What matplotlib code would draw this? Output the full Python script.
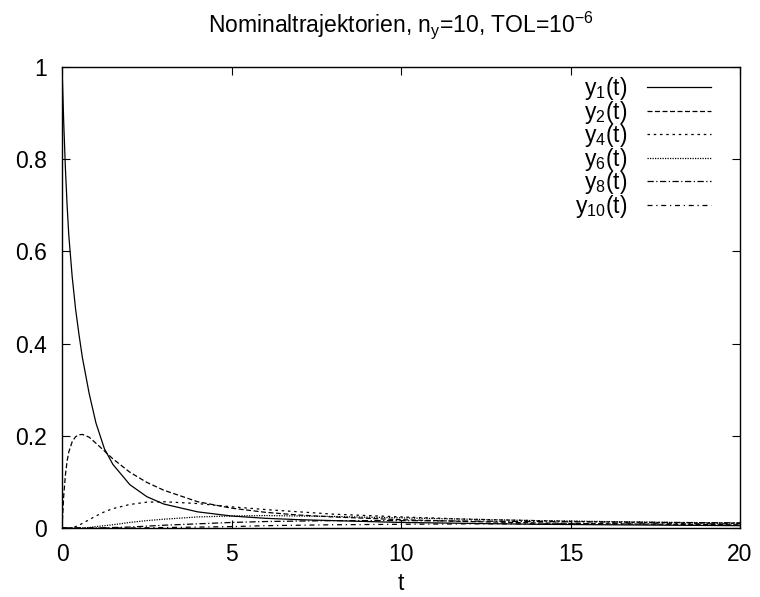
import matplotlib
matplotlib.use("Agg")
import matplotlib.pyplot as plt

plt.rcParams['font.family'] = ['Liberation Sans', 'DejaVu Sans']
plt.rcParams['mathtext.default'] = 'regular'

# values
t = [0, 0.05, 0.1, 0.15, 0.2, 0.3, 0.4, 0.5, 0.6, 0.8, 1.0, 1.25, 1.5, 2.0,
     2.5, 3.0, 4.0, 5.0, 6.0, 7.0, 8.0, 10.0, 12.0, 14.0, 16.0, 18.0, 20.0]
y1 = [1.0, 0.88, 0.78, 0.70, 0.635, 0.545, 0.475, 0.42, 0.37, 0.292, 0.228,
      0.172, 0.138, 0.094, 0.068, 0.052, 0.035, 0.026, 0.021, 0.018, 0.016,
      0.012, 0.010, 0.008, 0.007, 0.006, 0.005]
y2 = [0.0, 0.07, 0.115, 0.145, 0.165, 0.187, 0.198, 0.202, 0.203, 0.197,
      0.184, 0.167, 0.150, 0.121, 0.099, 0.082, 0.057, 0.043, 0.034, 0.028,
      0.024, 0.018, 0.014, 0.011, 0.009, 0.008, 0.007]
y4 = [0.0, 0.0, 0.0, 0.0, 0.0, 0.001, 0.003, 0.006, 0.010, 0.018, 0.026,
      0.035, 0.042, 0.051, 0.056, 0.057, 0.053, 0.046, 0.040, 0.035, 0.030,
      0.024, 0.019, 0.016, 0.013, 0.011, 0.010]
y6 = [0.0, 0.0, 0.0, 0.0, 0.0, 0.0, 0.0, 0.0, 0.0, 0.001, 0.003, 0.005,
      0.007, 0.012, 0.016, 0.019, 0.024, 0.026, 0.027, 0.026, 0.025, 0.022,
      0.019, 0.016, 0.014, 0.012, 0.011]
y8 = [0.0, 0.0, 0.0, 0.0, 0.0, 0.0, 0.0, 0.0, 0.0, 0.0, 0.0, 0.0005, 0.001,
      0.002, 0.004, 0.006, 0.009, 0.012, 0.014, 0.015, 0.016, 0.016, 0.015,
      0.014, 0.013, 0.012, 0.011]
y10 = [0.0, 0.0, 0.0, 0.0, 0.0, 0.0, 0.0, 0.0, 0.0, 0.0, 0.0, 0.0, 0.0, 0.0,
       0.0005, 0.001, 0.002, 0.003, 0.005, 0.006, 0.007, 0.008, 0.009, 0.009,
       0.009, 0.009, 0.009]

series = [y1, y2, y4, y6, y8, y10]
labels = ["y$_1$(t)", "y$_2$(t)", "y$_4$(t)", "y$_6$(t)", "y$_8$(t)", "y$_{10}$(t)"]
dashes = [None, (4, 2), (2, 3), (1, 1), (5, 2, 1, 2), (4, 3, 1, 3)]

fs = 16.5
fig = plt.figure(figsize=(7.6, 5.97), dpi=100)
ax = fig.add_axes([0.0816, 0.1156, 0.8921, 0.7722])

for y, lab, d in zip(series, labels, dashes):
    line, = ax.plot(t, y, color="black", linewidth=0.9, label=lab)
    if d is not None:
        line.set_dashes(d)

ax.set_xlim(0, 20)
ax.set_ylim(0, 1)
ax.set_xticks([0, 5, 10, 15, 20])
ax.set_yticks([0, 0.2, 0.4, 0.6, 0.8, 1])
ax.set_yticklabels(["0", "0.2", "0.4", "0.6", "0.8", "1"])
ax.tick_params(direction="in", length=6, width=0.8, top=True, right=True,
               labelsize=fs, pad=11)
for s in ax.spines.values():
    s.set_linewidth(1.0)

ax.set_xlabel("t", fontsize=fs, labelpad=4)
ax.set_title("Nominaltrajektorien, n$_y$=10, TOL=10$^{-6}$", fontsize=fs, pad=25)

ax.legend(loc="upper right", markerfirst=False, frameon=False, fontsize=fs,
          handlelength=2.8, handletextpad=0.85, labelspacing=-0.15,
          borderaxespad=0.2, bbox_to_anchor=(0.978, 1.012))

plt.savefig("out.png", dpi=100)
